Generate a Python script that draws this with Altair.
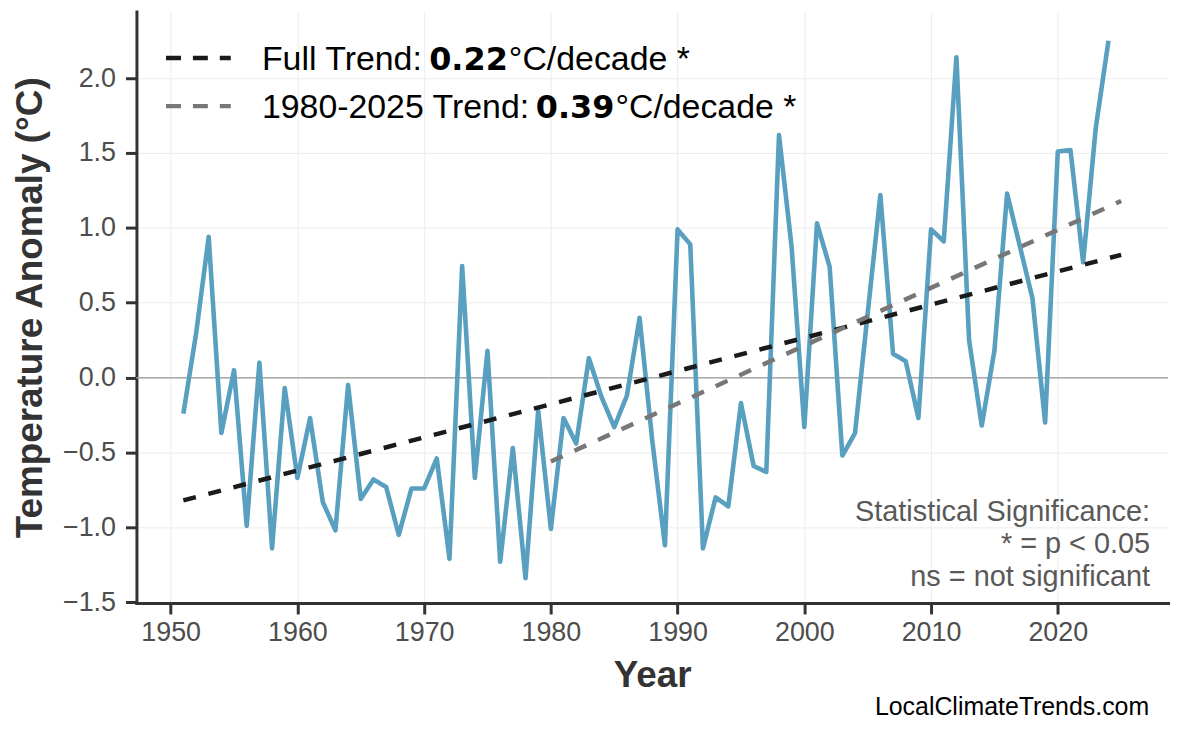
import altair as alt
import pandas as pd

# ---- data ----
years = list(range(1951, 2025))
anomaly = [
    -0.24, 0.29, 0.94, -0.37, 0.05, -0.99, 0.10, -1.14, -0.07, -0.67,   # 1951-1960
    -0.27, -0.83, -1.02, -0.05, -0.81, -0.68, -0.73, -1.05, -0.74, -0.74,  # 1961-1970
    -0.54, -1.21, 0.745, -0.67, 0.18, -1.23, -0.47, -1.34, -0.22, -1.01,  # 1971-1980
    -0.27, -0.44, 0.13, -0.13, -0.33, -0.12, 0.40, -0.42, -1.12, 0.99,    # 1981-1990
    0.89, -1.14, -0.80, -0.86, -0.17, -0.59, -0.63, 1.62, 0.87, -0.33,    # 1991-2000
    1.03, 0.74, -0.52, -0.37, 0.43, 1.22, 0.16, 0.11, -0.27, 0.99,        # 2001-2010
    0.91, 2.14, 0.25, -0.32, 0.18, 1.23, 0.88, 0.53, -0.30, 1.51,         # 2011-2020
    1.52, 0.77, 1.67, 2.25,                                               # 2021-2024
]

full_trend_years = [1951, 2025]
full_trend_values = [-0.82, 0.82]
recent_trend_years = [1980, 2025]
recent_trend_values = [-0.56, 1.18]

x_ticks = [1950, 1960, 1970, 1980, 1990, 2000, 2010, 2020]
y_ticks = [-1.5, -1.0, -0.5, 0.0, 0.5, 1.0, 1.5, 2.0]

legend_prefix = ["Full Trend: ", "1980-2025 Trend: "]
legend_rate = ["0.22", "0.39"]
legend_suffix = ["°C/decade *", "°C/decade *"]
note_lines = ["Statistical Significance:", "* = p < 0.05", "ns = not significant"]
watermark = ["LocalClimateTrends.com"]

# ---- layout ----
W, H = 1036, 594
FONT = "Liberation Sans"
BLUE = "#589fc0"
BLACK = "#1a1a1a"
GREY = "#777777"

df = pd.DataFrame({"Year": years, "Anomaly": anomaly})
full_df = pd.DataFrame({"Year": full_trend_years, "Anomaly": full_trend_values})
recent_df = pd.DataFrame({"Year": recent_trend_years, "Anomaly": recent_trend_values})
zero_df = pd.DataFrame({"Year": [1950], "Anomaly": [0.0]})

x_scale = alt.Scale(domain=[1947.3, 2028.7], nice=False, zero=False)
y_scale = alt.Scale(domain=[-1.505, 2.445], nice=False, zero=False)

common_axis = dict(
    domainColor="#333333", domainWidth=3, domainCap="square",
    tickColor="#333333", tickWidth=3, tickSize=11,
    labelFont=FONT, labelFontSize=27, labelColor="#4d4d4d",
    titleFont=FONT, titleFontSize=37, titleFontWeight="bold", titleColor="#333333",
    grid=True, gridColor="#ececec", gridWidth=1,
    labelFlush=False, labelOverlap=False,
)

x_axis = alt.Axis(values=x_ticks, format="d", title="Year", labelPadding=6,
                  titleBaseline="alphabetic", titleY=84, **common_axis)
y_axis = alt.Axis(values=y_ticks, format=".1f", title="Temperature Anomaly (°C)",
                  labelPadding=10, titleBaseline="alphabetic", titleX=-95, titleY=H / 2,
                  titleAngle=270, **common_axis)

X = alt.X("Year:Q", scale=x_scale, axis=x_axis)
Y = alt.Y("Anomaly:Q", scale=y_scale, axis=y_axis)

line = alt.Chart(df).mark_line(
    color=BLUE, strokeWidth=4.6, strokeJoin="round"
).encode(x=X, y=Y)

zero = alt.Chart(zero_df).mark_rule(
    color="#aaaaaa", strokeWidth=1.5
).encode(y=Y)

def trend(d, color):
    return alt.Chart(d).mark_line(
        color=color, strokeWidth=4.5, strokeDash=[13, 13], strokeCap="butt"
    ).encode(x=X, y=Y)

layers = [zero, line, trend(full_df, BLACK), trend(recent_df, GREY)]

# legend (drawn manually so the rate can be bold)
legend_rows = [
    dict(y=46.7, base=58.3, color=BLACK, x_rate=294, x_suf=374),
    dict(y=95.0, base=107.3, color=GREY, x_rate=401, x_suf=481),
]
for i, row in enumerate(legend_rows):
    layers.append(
        alt.Chart(pd.DataFrame({"k": [i]})).mark_rule(
            color=row["color"], strokeWidth=4.5, strokeDash=[15, 12], strokeCap="butt"
        ).encode(x=alt.value(29.7), x2=alt.value(94.7), y=alt.value(row["y"]))
    )
    layers.append(
        alt.Chart(pd.DataFrame({"t": [legend_prefix[i]]})).mark_text(
            font=FONT, fontSize=34, color="black", align="left", baseline="alphabetic"
        ).encode(text="t:N", x=alt.value(126), y=alt.value(row["base"]))
    )
    layers.append(
        alt.Chart(pd.DataFrame({"t": [legend_rate[i]]})).mark_text(
            font="DejaVu Sans", fontSize=32, fontWeight="bold", color="black",
            align="left", baseline="alphabetic"
        ).encode(text="t:N", x=alt.value(row["x_rate"]), y=alt.value(row["base"]))
    )
    layers.append(
        alt.Chart(pd.DataFrame({"t": [legend_suffix[i]]})).mark_text(
            font=FONT, fontSize=34, color="black", align="left", baseline="alphabetic"
        ).encode(text="t:N", x=alt.value(row["x_suf"]), y=alt.value(row["base"]))
    )

for i, ypos in enumerate([511.5, 544.0, 576.5]):
    layers.append(
        alt.Chart(pd.DataFrame({"t": [note_lines[i]]})).mark_text(
            font=FONT, fontSize=29, color="#595959", align="right", baseline="alphabetic"
        ).encode(text="t:N", x=alt.value(1018), y=alt.value(ypos))
    )

layers.append(
    alt.Chart(pd.DataFrame({"t": watermark})).mark_text(
        font=FONT, fontSize=25, color="black", align="right", baseline="alphabetic"
    ).encode(text="t:N", x=alt.value(1017), y=alt.value(706.7))
)

chart = alt.layer(*layers).properties(
    width=W, height=H,
    padding={"left": 129, "top": 2, "right": 10, "bottom": 125},
    autosize=alt.AutoSizeParams(type="none"),
    background="white",
).configure(font=FONT).configure_view(stroke=None)

chart.save("out.html", embed_options={"renderer": "svg", "actions": False})
